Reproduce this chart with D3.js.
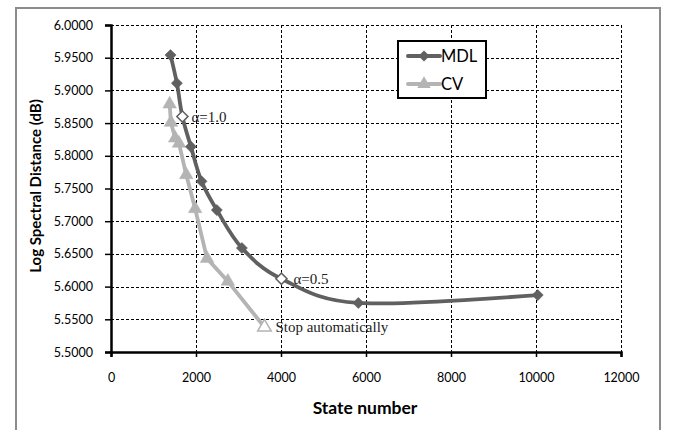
<!DOCTYPE html>
<html>
<head>
<meta charset="utf-8">
<script src="https://cdn.jsdelivr.net/npm/d3@7"></script>
<style>
  body { margin: 0; background: #fff; }
  svg { display: block; }
</style>
</head>
<body>
<div class="chart"></div>
<script>
// values
var mdlStates = [1400, 1550, 1680, 1880, 2130, 2490, 3080, 4010, 5820, 10040];
var mdlLsd = [5.954, 5.911, 5.860, 5.814, 5.761, 5.717, 5.659, 5.612, 5.575, 5.587];
var mdlHollow = [2, 7];

var cvStates = [1380, 1410, 1510, 1600, 1770, 1980, 2260, 2750, 3610];
var cvLsd = [5.879, 5.851, 5.827, 5.819, 5.771, 5.719, 5.643, 5.608, 5.538];
var cvHollow = [8];

var xTicks = [0, 2000, 4000, 6000, 8000, 10000, 12000];
var yTicks = [5.5, 5.55, 5.6, 5.65, 5.7, 5.75, 5.8, 5.85, 5.9, 5.95, 6.0];

var notes = [
    { text: "\u03b1=1.0", x: 1680, y: 5.860, dx: 9 },
    { text: "\u03b1=0.5", x: 4010, y: 5.612, dx: 12 },
    { text: "Stop automatically", x: 3610, y: 5.538, dx: 11 }
];

const width = 678, height = 430;
const plot = { left: 111, right: 621, top: 25, bottom: 352 };
const darkGray = "#606060", lightGray = "#b4b4b4";
const sans = "Lato, 'Open Sans', sans-serif";

const x = d3.scaleLinear().domain([0, 12000]).range([plot.left, plot.right]);
const y = d3.scaleLinear().domain([5.5, 6.0]).range([plot.bottom, plot.top]);

const svg = d3.select(".chart").append("svg")
    .attr("width", width)
    .attr("height", height);

// outer frame
svg.append("rect")
    .attr("x", 16).attr("y", 8)
    .attr("width", 644).attr("height", 440)
    .attr("fill", "#fff")
    .attr("stroke", "#8c8c8c")
    .attr("stroke-width", 2);

// dashed grid
const grid = svg.append("g").attr("class", "grid");

grid.selectAll(".hgrid")
    .data(yTicks.slice(1)).enter()
    .append("line")
    .attr("class", "hgrid")
    .attr("x1", plot.left).attr("x2", plot.right)
    .attr("y1", d => Math.round(y(d)) + 0.5).attr("y2", d => Math.round(y(d)) + 0.5)
    .style("stroke", "#000")
    .style("stroke-width", "1px")
    .style("stroke-dasharray", "3,2");

grid.selectAll(".vgrid")
    .data(xTicks.slice(1)).enter()
    .append("line")
    .attr("class", "vgrid")
    .attr("x1", d => Math.round(x(d)) + 0.5).attr("x2", d => Math.round(x(d)) + 0.5)
    .attr("y1", plot.top).attr("y2", plot.bottom)
    .style("stroke", "#000")
    .style("stroke-width", "1px")
    .style("stroke-dasharray", "3,2");

// axes
const yAxis = svg.append("g")
    .attr("transform", `translate(${plot.left},0)`)
    .call(d3.axisLeft(y).tickValues(yTicks).tickFormat(d3.format(".4f")).tickSize(6).tickPadding(12));

const xAxis = svg.append("g")
    .attr("transform", `translate(0,${plot.bottom})`)
    .call(d3.axisBottom(x).tickValues(xTicks).tickFormat(d3.format("d")).tickSize(5).tickPadding(16));

[xAxis, yAxis].forEach(a => {
    a.select(".domain").attr("stroke", "#000").attr("stroke-width", 2.5);
    a.selectAll(".tick line").attr("stroke", "#000").attr("stroke-width", 1.5);
    a.selectAll(".tick text")
        .attr("fill", "#000")
        .style("font-family", sans)
        .style("font-size", "12.5px");
});

// axis titles
svg.append("text")
    .attr("x", 365)
    .attr("y", 414)
    .attr("text-anchor", "middle")
    .style("font-family", sans)
    .style("font-size", "17.5px")
    .style("font-weight", "bold")
    .text("State number");

svg.append("text")
    .attr("transform", "translate(41,186) rotate(-90)")
    .attr("text-anchor", "middle")
    .style("font-family", sans)
    .style("font-size", "15px")
    .style("font-weight", "bold")
    .text("Log Spectral Distance (dB)");

// series
const mdl = mdlStates.map((s, i) => ({ x: s, y: mdlLsd[i], hollow: mdlHollow.includes(i) }));
const cv = cvStates.map((s, i) => ({ x: s, y: cvLsd[i], hollow: cvHollow.includes(i) }));

const smooth = d3.line()
    .x(d => x(d.x)).y(d => y(d.y))
    .curve(d3.curveCatmullRom.alpha(0));

const straight = d3.line()
    .x(d => x(d.x)).y(d => y(d.y));

svg.append("path")
    .datum(cv)
    .attr("fill", "none")
    .attr("stroke", lightGray)
    .attr("stroke-width", 3.8)
    .attr("stroke-linejoin", "round")
    .attr("d", straight);

svg.append("path")
    .datum(mdl)
    .attr("fill", "none")
    .attr("stroke", darkGray)
    .attr("stroke-width", 3.8)
    .attr("d", smooth);

const diamond = d3.symbol().type(d3.symbolSquare).size(62);
const triangle = d3.symbol().type(d3.symbolTriangle).size(80);

svg.append("g").selectAll("path")
    .data(cv).enter()
    .append("path")
    .attr("transform", d => `translate(${x(d.x)},${y(d.y)})`)
    .attr("d", triangle)
    .attr("fill", d => d.hollow ? "#fff" : lightGray)
    .attr("stroke", lightGray)
    .attr("stroke-width", d => d.hollow ? 1.5 : 0.5);

svg.append("g").selectAll("path")
    .data(mdl).enter()
    .append("path")
    .attr("transform", d => `translate(${x(d.x)},${y(d.y)}) rotate(45)`)
    .attr("d", diamond)
    .attr("fill", d => d.hollow ? "#fff" : darkGray)
    .attr("stroke", darkGray)
    .attr("stroke-width", d => d.hollow ? 1.5 : 0.5);

// annotations
svg.append("g").selectAll("text")
    .data(notes).enter()
    .append("text")
    .attr("x", d => x(d.x) + d.dx)
    .attr("y", d => y(d.y))
    .attr("dy", "0.35em")
    .style("font-family", "'Liberation Serif', 'DejaVu Serif', serif")
    .style("font-size", "15px")
    .attr("fill", "#222")
    .text(d => d.text);

// legend
const legend = svg.append("g").attr("transform", "translate(398,41)");
legend.append("rect")
    .attr("width", 88).attr("height", 57)
    .attr("fill", "#fff")
    .attr("stroke", "#000")
    .attr("stroke-width", 2);

const items = [
    { name: "MDL", color: darkGray, sym: diamond, rot: 45, cy: 15 },
    { name: "CV", color: lightGray, sym: triangle, rot: 0, cy: 43 }
];
const li = legend.selectAll("g.item")
    .data(items).enter()
    .append("g")
    .attr("class", "item")
    .attr("transform", d => `translate(0,${d.cy})`);
li.append("line")
    .attr("x1", 10).attr("x2", 42)
    .attr("stroke", d => d.color)
    .attr("stroke-width", 4)
    .attr("stroke-linecap", "round");
li.append("path")
    .attr("transform", d => `translate(26,0) rotate(${d.rot})`)
    .attr("d", d => d.sym())
    .attr("fill", d => d.color);
li.append("text")
    .attr("x", 43)
    .attr("dy", "0.35em")
    .style("font-family", sans)
    .style("font-size", "16.5px")
    .attr("fill", "#000")
    .text(d => d.name);
</script>
</body>
</html>
